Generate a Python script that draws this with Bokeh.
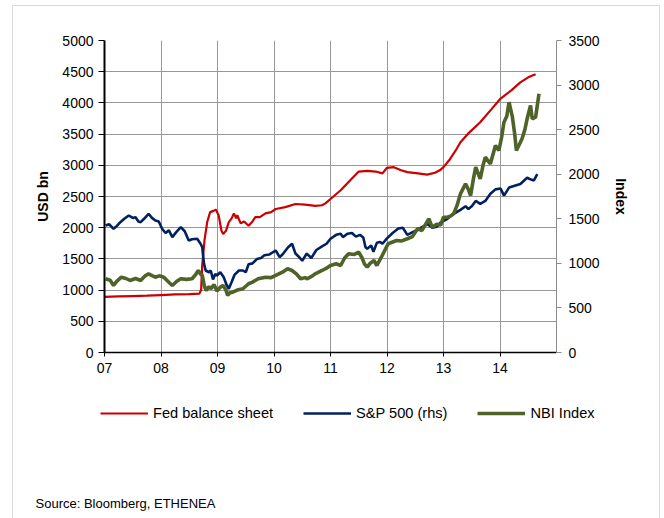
from bokeh.plotting import figure
from bokeh.layouts import column, row
from bokeh.models import (Range1d, LinearAxis, FixedTicker, Legend, LegendItem, Label)
from bokeh.embed import file_html
from bokeh.resources import INLINE

# ---------------- data (fractional years) ----------------
fed_x = [2007.00, 2007.25, 2007.50, 2007.75, 2008.00, 2008.25, 2008.50, 2008.68,
         2008.71, 2008.73, 2008.77, 2008.82, 2008.87, 2008.93, 2008.97, 2009.02,
         2009.07, 2009.10, 2009.15, 2009.20, 2009.25, 2009.29, 2009.33, 2009.35,
         2009.41, 2009.47, 2009.55, 2009.62, 2009.67, 2009.75, 2009.85, 2009.95,
         2010.03, 2010.20, 2010.38, 2010.55, 2010.73, 2010.85, 2010.91, 2011.00,
         2011.18, 2011.35, 2011.50, 2011.65, 2011.80, 2011.92, 2012.00, 2012.12,
         2012.25, 2012.36, 2012.55, 2012.71, 2012.85, 2012.95, 2013.00, 2013.10,
         2013.21, 2013.30, 2013.45, 2013.65, 2013.85, 2014.01, 2014.20, 2014.36,
         2014.50, 2014.63]
fed_y = [890, 900, 905, 910, 920, 930, 935, 945,
         1000, 1400, 1800, 2100, 2250, 2270, 2290, 2200,
         1950, 1900, 1950, 2090, 2150, 2230, 2150, 2200,
         2070, 2100, 2030, 2100, 2170, 2170, 2230, 2250,
         2300, 2330, 2380, 2370, 2350, 2360, 2390, 2460,
         2600, 2760, 2900, 2910, 2900, 2870, 2960, 2970,
         2920, 2890, 2870, 2850, 2880, 2930, 2970, 3080,
         3230, 3370, 3520, 3690, 3900, 4070, 4200, 4330,
         4410, 4460]

spx_x = [2007.02, 2007.08, 2007.16, 2007.22, 2007.28, 2007.35, 2007.43, 2007.50,
         2007.55, 2007.60, 2007.64, 2007.70, 2007.78, 2007.84, 2007.90, 2007.96,
         2008.02, 2008.08, 2008.14, 2008.20, 2008.27, 2008.35, 2008.42, 2008.49,
         2008.55, 2008.64, 2008.70, 2008.73, 2008.76, 2008.79, 2008.85, 2008.88,
         2008.92, 2008.96, 2008.99, 2009.05, 2009.11, 2009.16, 2009.20, 2009.25,
         2009.30, 2009.38, 2009.45, 2009.50, 2009.55, 2009.62, 2009.70, 2009.77,
         2009.83, 2009.92, 2010.03, 2010.10, 2010.15, 2010.25, 2010.32, 2010.38,
         2010.43, 2010.50, 2010.58, 2010.66, 2010.75, 2010.85, 2010.93, 2011.00,
         2011.10, 2011.18, 2011.22, 2011.30, 2011.38, 2011.45, 2011.52, 2011.58,
         2011.62, 2011.65, 2011.72, 2011.76, 2011.82, 2011.88, 2011.92, 2012.00,
         2012.10, 2012.20, 2012.28, 2012.36, 2012.42, 2012.55, 2012.66, 2012.72,
         2012.80, 2012.88, 2012.95, 2013.07, 2013.18, 2013.30, 2013.39, 2013.44,
         2013.50, 2013.57, 2013.65, 2013.74, 2013.83, 2013.92, 2014.01, 2014.07,
         2014.16, 2014.26, 2014.36, 2014.48, 2014.55, 2014.60, 2014.66]
spx_y = [1425, 1440, 1388, 1420, 1462, 1500, 1537, 1510,
         1518, 1470, 1462, 1500, 1556, 1510, 1481, 1470,
         1388, 1340, 1370, 1294, 1350, 1406, 1360, 1257,
         1270, 1276, 1220, 1182, 1000, 920, 900, 920,
         820, 880, 864, 900, 845, 760, 715, 790,
         870, 920, 920, 900, 990, 1000, 1050, 1060,
         1090, 1100, 1144, 1070, 1100, 1180, 1220, 1110,
         1080, 1030, 1110, 1060, 1150, 1190, 1220, 1276,
         1320, 1332, 1294, 1332, 1340, 1300, 1320, 1290,
         1180, 1163, 1200, 1130, 1230, 1240, 1220, 1280,
         1340, 1390, 1400, 1320, 1340, 1380, 1420, 1440,
         1400, 1410, 1460, 1500, 1556, 1600, 1640, 1610,
         1640, 1700, 1668, 1700, 1780, 1830, 1840, 1760,
         1850, 1870, 1890, 1960, 1940, 1930, 2000]

nbi_x = [2007.02, 2007.10, 2007.16, 2007.22, 2007.30, 2007.38, 2007.45, 2007.55,
         2007.64, 2007.72, 2007.78, 2007.85, 2007.90, 2007.97, 2008.05, 2008.12,
         2008.20, 2008.28, 2008.35, 2008.45, 2008.55, 2008.62, 2008.66, 2008.70,
         2008.73, 2008.77, 2008.80, 2008.85, 2008.88, 2008.94, 2008.99, 2009.05,
         2009.10, 2009.15, 2009.18, 2009.22, 2009.27, 2009.35, 2009.45, 2009.55,
         2009.62, 2009.72, 2009.85, 2009.95, 2010.03, 2010.15, 2010.24, 2010.32,
         2010.40, 2010.47, 2010.55, 2010.59, 2010.68, 2010.73, 2010.85, 2010.94,
         2011.00, 2011.10, 2011.18, 2011.25, 2011.32, 2011.42, 2011.50, 2011.56,
         2011.60, 2011.65, 2011.70, 2011.77, 2011.82, 2011.90, 2012.02, 2012.10,
         2012.17, 2012.25, 2012.36, 2012.45, 2012.54, 2012.62, 2012.74, 2012.80,
         2012.88, 2012.95, 2013.00, 2013.07, 2013.12, 2013.18, 2013.24, 2013.30,
         2013.39, 2013.44, 2013.48, 2013.53, 2013.57, 2013.65, 2013.70, 2013.74,
         2013.83, 2013.92, 2013.98, 2014.03, 2014.07, 2014.12, 2014.16, 2014.22,
         2014.26, 2014.29, 2014.34, 2014.39, 2014.44, 2014.48, 2014.54, 2014.57,
         2014.63, 2014.69]
nbi_y = [827, 810, 752, 800, 845, 830, 808, 830,
         808, 860, 883, 860, 845, 860, 845, 800,
         752, 800, 827, 820, 827, 880, 920, 880,
         864, 740, 696, 740, 715, 760, 690, 733,
         752, 700, 640, 670, 677, 700, 715, 771,
         790, 827, 845, 840, 864, 901, 939, 920,
         880, 827, 840, 827, 860, 883, 920, 950,
         976, 995, 976, 1060, 1107, 1100, 1125, 1060,
         995, 957, 1000, 1032, 976, 1069, 1220, 1240,
         1257, 1250, 1276, 1300, 1388, 1369, 1500, 1406,
         1440, 1430, 1518, 1518, 1530, 1556, 1650, 1780,
         1893, 1830, 1761, 1950, 2079, 1949, 2100, 2191,
         2117, 2323, 2266, 2420, 2584, 2650, 2808, 2640,
         2450, 2266, 2330, 2397, 2500, 2622, 2771, 2622,
         2640, 2903]

year_ticks = [2007, 2008, 2009, 2010, 2011, 2012, 2013, 2014]
year_labels = ["07", "08", "09", "10", "11", "12", "13", "14"]
left_ticks = [0, 500, 1000, 1500, 2000, 2500, 3000, 3500, 4000, 4500, 5000]
right_ticks = [0, 500, 1000, 1500, 2000, 2500, 3000, 3500]

series_names = ["Fed balance sheet", "S&P 500 (rhs)", "NBI Index"]
series_colors = ["#CC0000", "#002060", "#4F6228"]
series_widths = [2.2, 2.6, 3.6]
source_text = "Source: Bloomberg, ETHENEA"

FONT = "Liberation Sans"

# content starts at page (13, 6): 12/5 px margin + 1 px frame border
# ---------------- main chart ----------------
p = figure(width=646, height=384, output_backend="svg", toolbar_location=None,
           x_range=Range1d(2007, 2015), y_range=Range1d(0, 5000),
           min_border_left=91, min_border_right=103, min_border_top=34,
           min_border_bottom=38, x_axis_location="below")
p.extra_y_ranges = {"rhs": Range1d(0, 3500)}
p.outline_line_color = None
p.background_fill_color = "white"
p.border_fill_color = "white"

grid_col = "#989898"
p.xgrid.ticker = FixedTicker(ticks=year_ticks + [2015])
p.ygrid.ticker = FixedTicker(ticks=left_ticks)
for g in (p.xgrid[0], p.ygrid[0]):
    g.grid_line_color = grid_col
    g.grid_line_width = 1

xa = p.xaxis[0]
xa.ticker = FixedTicker(ticks=year_ticks)
xa.major_label_overrides = {t: l for t, l in zip(year_ticks, year_labels)}
xa.axis_line_color = "black"
xa.axis_line_width = 1.5
xa.major_tick_line_color = "black"
xa.major_tick_out = 4
xa.major_tick_in = 0
xa.minor_tick_line_color = None
xa.major_label_standoff = 6
xa.major_label_text_font = FONT
xa.major_label_text_font_size = "14px"
xa.major_label_text_color = "black"

ya = p.yaxis[0]
ya.ticker = FixedTicker(ticks=left_ticks)
ya.axis_line_color = "black"
ya.axis_line_width = 2
ya.major_tick_line_color = "black"
ya.major_tick_out = 6
ya.major_tick_in = 0
ya.minor_tick_line_color = None
ya.major_label_standoff = 5
ya.major_label_text_font = FONT
ya.major_label_text_font_size = "14px"
ya.major_label_text_color = "black"
ya.axis_label = "USD bn"
ya.axis_label_text_font = FONT
ya.axis_label_text_font_style = "bold"
ya.axis_label_text_font_size = "14px"
ya.axis_label_text_color = "black"
ya.axis_label_standoff = 8

ra = LinearAxis(y_range_name="rhs", ticker=FixedTicker(ticks=right_ticks))
ra.axis_line_color = "#8c8c8c"
ra.axis_line_width = 1
ra.major_tick_line_color = "#8c8c8c"
ra.major_tick_out = 5
ra.major_tick_in = 0
ra.minor_tick_line_color = None
ra.major_label_standoff = 7
ra.major_label_text_font = FONT
ra.major_label_text_font_size = "14px"
ra.major_label_text_color = "black"
ra.axis_label = "Index"
ra.axis_label_text_font = FONT
ra.axis_label_text_font_style = "bold"
ra.axis_label_text_font_size = "14px"
ra.axis_label_text_color = "black"
ra.axis_label_standoff = 10
p.add_layout(ra, "right")

p.line(fed_x, fed_y, line_color=series_colors[0], line_width=series_widths[0])
p.line(spx_x, spx_y, y_range_name="rhs", line_color=series_colors[1], line_width=series_widths[1])
p.line(nbi_x, nbi_y, y_range_name="rhs", line_color=series_colors[2], line_width=series_widths[2])

# ---------------- legend + source strip ----------------
q = figure(width=646, height=128, output_backend="svg", toolbar_location=None,
           x_range=Range1d(0, 1), y_range=Range1d(0, 1),
           min_border_left=0, min_border_right=0, min_border_top=0,
           min_border_bottom=0, x_axis_type=None, y_axis_type=None)
q.outline_line_color = None
q.xgrid.visible = False
q.ygrid.visible = False
q.background_fill_color = "white"
q.border_fill_color = "white"

items = []
for name, col, w in zip(series_names, series_colors, series_widths):
    # data lies outside the visible range: only the legend swatch shows
    r = q.line([-5, -4], [-5, -5], line_color=col, line_width=w)
    items.append(LegendItem(label=name, renderers=[r]))

legend = Legend(items=items, orientation="horizontal", location=(87, 95),
                glyph_width=48, glyph_height=20, label_height=20,
                label_standoff=5, spacing=30, padding=0, margin=0,
                border_line_color=None, background_fill_alpha=0,
                label_text_font=FONT, label_text_font_size="14.6px",
                label_text_color="black")
q.add_layout(legend, "center")

q.add_layout(Label(x=22, y=15, x_units="screen", y_units="screen",
                   text=source_text, text_font=FONT, text_font_size="13px",
                   text_color="black", text_baseline="middle"))

layout = column(p, row(q, spacing=0), spacing=0)
layout.styles = {"margin-left": "12px", "margin-top": "5px",
                 "border-left": "1px solid #d9d9d9",
                 "border-top": "1px solid #d9d9d9",
                 "border-right": "1px solid #d9d9d9"}
open("out.html", "w").write(file_html(layout, INLINE))
